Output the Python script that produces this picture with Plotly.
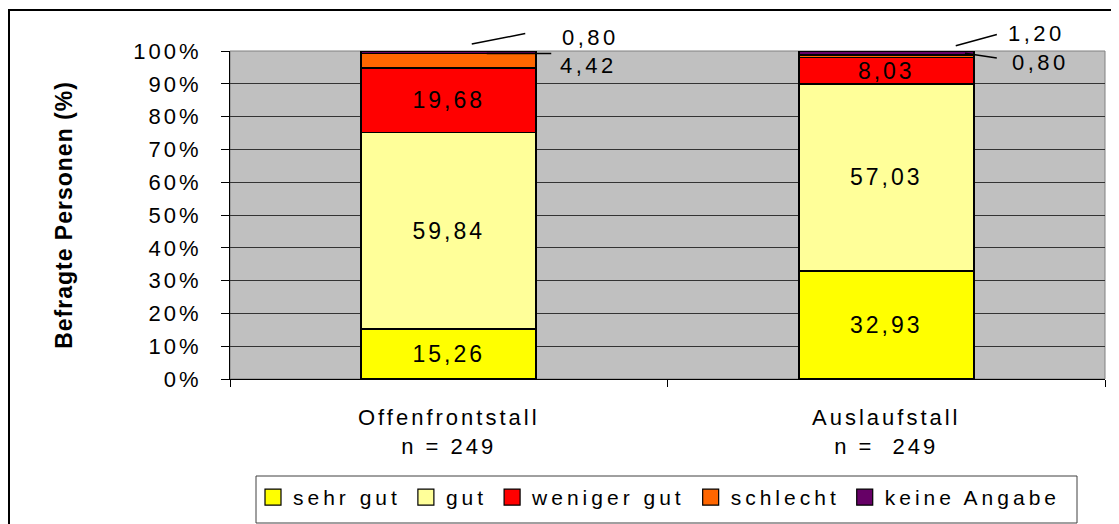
import plotly.graph_objects as go

# ---------------- data ----------------
categories = ["Offenfrontstall", "Auslaufstall"]
n_labels = ["n = 249", "n =\u00a0 249"]
series_names = ["sehr gut", "gut", "weniger gut", "schlecht", "keine Angabe"]
sehr_gut = [15.26, 32.93]
gut = [59.84, 57.03]
weniger_gut = [19.68, 8.03]
schlecht = [4.42, 0.80]
keine_angabe = [0.80, 1.20]
y_ticks = [0, 10, 20, 30, 40, 50, 60, 70, 80, 90, 100]
y_tick_labels = [f"{t}%" for t in y_ticks]

series_values = [sehr_gut, gut, weniger_gut, schlecht, keine_angabe]

# ---------------- style ----------------
colors = ["#FFFF00", "#FFFF99", "#FF0000", "#FF6600", "#660066"]
FONT = "Liberation Sans, Arial, sans-serif"
OFF = 8  # page body margin
W_PAGE, H_PAGE = 1119, 524
PL, PT, PR, PB = 230, 51, 1105, 379  # plot area in page pixels
W_FIG, H_FIG = W_PAGE - OFF, H_PAGE - OFF
L, T = PL - OFF, PT - OFF
R, B = W_FIG - (PR - OFF), H_FIG - (PB - OFF)
PW, PH = PR - PL, PB - PT


def px_x(p):
    return (p - PL) / PW


def px_y(p):
    return (PB - p) / PH


def spaced(s, ls):
    return f"<span style='letter-spacing:{ls}px'>{s}</span>"


def de(v):
    return f"{v:.2f}".replace(".", ",")


fig = go.Figure()

# bars (inside labels only where the segment is big enough)
for name, vals, col in zip(series_names, series_values, colors):
    fig.add_trace(go.Bar(
        x=categories, y=vals, name=name,
        marker=dict(color=col, line=dict(color="black", width=1.6)),
        text=[spaced(de(v), 3) if v >= 5 else "" for v in vals],
        textposition="inside", insidetextanchor="middle",
        constraintext="none",
        textfont=dict(family=FONT, size=23, color="black"),
        showlegend=False, width=0.4, hoverinfo="skip",
    ))

# legend entries
for name, col in zip(series_names, colors):
    fig.add_trace(go.Scatter(
        x=[None], y=[None], mode="markers", name=spaced(name, 4),
        marker=dict(symbol="square", size=16, color=col,
                    line=dict(color="black", width=1.2)),
        showlegend=True,
    ))

# outside labels with leader lines for small segments
# (category idx, series idx, text dx, text dy, line head dx, dy, tail ax, ay)
outside = [
    (0, 4, 142, 13.5, 23, 7, 55, -10.7),
    (0, 3, 140, -11.4, 38, 0, 66, 0),
    (1, 4, 150, 17.5, 69.5, 5.3, 42.6, -11.7),
    (1, 3, 154, -8, 78.75, 1.7, 33.3, 5),
]
for ci, si, tdx, tdy, hdx, hdy, tax, tay in outside:
    top = sum(series_values[k][ci] for k in range(si + 1))
    val = series_values[si][ci]
    fig.add_annotation(
        x=categories[ci], y=top / 100, xref="x", yref="paper",
        xanchor="center", yanchor="middle",
        text=spaced(de(val), 3.5), showarrow=False,
        xshift=tdx, yshift=tdy,
        font=dict(family=FONT, size=22, color="black"),
    )
    fig.add_annotation(
        x=categories[ci], y=top / 100, xref="x", yref="paper",
        text="", showarrow=True, arrowhead=0, arrowwidth=1.5,
        arrowcolor="black", standoff=0, startstandoff=0,
        ax=tax, ay=tay, xshift=hdx, yshift=hdy,
    )

shapes = [
    # plot-area border (top / right in grey)
    dict(type="rect", xref="paper", yref="paper", x0=0, x1=1, y0=0, y1=1,
         line=dict(color="#808080", width=1), layer="below"),
    # outer chart frame
    dict(type="rect", xref="paper", yref="paper",
         x0=px_x(9), x1=px_x(1140), y0=px_y(545), y1=px_y(10),
         line=dict(color="black", width=2)),
    # legend box
    dict(type="rect", xref="paper", yref="paper",
         x0=px_x(256), x1=px_x(1077), y0=px_y(523), y1=px_y(476),
         line=dict(color="#404040", width=1)),
]

fig.update_layout(
    width=W_FIG, height=H_FIG,
    margin=dict(l=L, r=R, t=T, b=B, autoexpand=False),
    barmode="stack",
    paper_bgcolor="white", plot_bgcolor="#C0C0C0",
    font=dict(family=FONT, color="black"),
    shapes=shapes,
    showlegend=True,
    legend=dict(
        orientation="h", x=px_x(253), y=px_y(477),
        xanchor="left", yanchor="top", traceorder="normal",
        font=dict(family=FONT, size=21, color="black"),
        borderwidth=0, bgcolor="rgba(0,0,0,0)",
        itemclick=False, itemdoubleclick=False,
    ),
    xaxis=dict(
        type="category", range=[-0.5, 1.5],
        tickmode="array", tickvals=categories,
        ticktext=[spaced(f"{c}<br>{n}", 3) for c, n in zip(categories, n_labels)],
        tickson="boundaries", ticks="outside", ticklen=7, tickcolor="black",
        showline=True, linecolor="black", linewidth=1,
        showgrid=False, zeroline=False,
        tickfont=dict(family=FONT, size=22, color="black"),
        ticklabelstandoff=19,
    ),
    yaxis=dict(
        range=[0, 100], tickmode="array", tickvals=y_ticks,
        ticktext=[spaced(t, 3) for t in y_tick_labels],
        ticks="outside", ticklen=8, tickcolor="black",
        showline=True, linecolor="black", linewidth=1,
        showgrid=True, gridcolor="#333333", gridwidth=1,
        zeroline=False,
        tickfont=dict(family=FONT, size=22, color="black"),
        ticklabelstandoff=15,
        title=dict(text=spaced("<b>Befragte Personen (%)</b>", 1),
                   font=dict(family=FONT, size=23, color="black"),
                   standoff=54),
    ),
)

fig.write_html("out.html")
